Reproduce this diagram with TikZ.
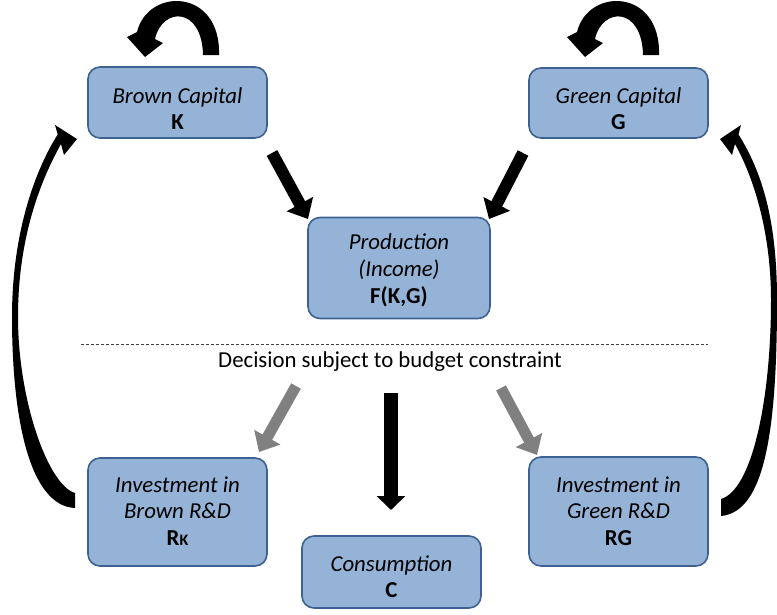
\documentclass[tikz,border=0pt]{standalone}
\usepackage{fontspec}
\setmainfont{Carlito}
\usetikzlibrary{arrows.meta}
\definecolor{boxfill}{HTML}{95B3D7}
\definecolor{boxline}{HTML}{3D6292}
\definecolor{arrowgray}{HTML}{808080}
\tikzset{
  box/.style={draw=boxline, line width=1.6pt, fill=boxfill, rounded corners=12pt,
    align=center, inner sep=0pt, font=\fontsize{22.8}{26.8}\selectfont},
  blockarrow/.style={line width=12pt, -{Triangle[width=29pt,length=17pt]}},
  downarrow/.style={line width=14pt, -{Triangle[width=28pt,length=14pt]}},
  grayarrow/.style={blockarrow, draw=arrowgray, line width=11pt},
  bendarrow/.style={fill=black, draw=none},
  divider/.style={draw=black!75, line width=0.6pt, dash pattern=on 3pt off 2pt},
  caption/.style={font=\fontsize{22.8}{26}\selectfont, inner sep=0pt}
}
% raise the top of a text block to move its lines down inside a box
\newcommand{\lift}[1]{\rule{0pt}{#1pt}}
\begin{document}
\begin{tikzpicture}[x=1pt,y=-1pt]
\useasboundingbox (0,0) rectangle (777,614);

% capital stocks, production and decision boxes
\node[box, minimum width=179pt, minimum height=71pt] (bk) at (177.5,102.5)
  {\lift{28}\textit{Brown Capital}\\\textbf{K}};
\node[box, minimum width=179pt, minimum height=70pt] (gc) at (618.5,103)
  {\lift{27}\textit{Green Capital}\\\textbf{G}};
\node[box, minimum width=182pt, minimum height=101pt] (prod) at (399,268)
  {\lift{21}\textit{Production}\\\textit{(Income)}\\\textbf{F(K,G)}};
\node[box, minimum width=179pt, minimum height=108pt] (ib) at (177.5,512)
  {\textit{Investment in}\\\textit{Brown R\&D}\\\textbf{R{\fontsize{16}{16}\selectfont K}}\rule[-2pt]{0pt}{2pt}};
\node[box, minimum width=179pt, minimum height=109pt] (ig) at (618.5,511.5)
  {\textit{Investment in}\\\textit{Green R\&D}\\\textbf{RG}\rule[-1pt]{0pt}{1pt}};
\node[box, minimum width=179pt, minimum height=72pt] (cons) at (391.5,572)
  {\lift{25}\textit{Consumption}\\\textbf{C}};

% budget constraint divider
\coordinate (dl) at (81,344);
\coordinate (dr) at (708,344);
\draw[divider] (dl) -- (dr);
\node[caption] (dec) at (390,362) {Decision subject to budget constraint};

% straight block arrows
\coordinate (bkout) at (272,153);
\coordinate (prodinl) at (308,219);
\coordinate (gcout) at (523,153);
\coordinate (prodinr) at (489,219);
\draw[blockarrow] (bkout) -- (prodinl);
\draw[blockarrow] (gcout) -- (prodinr);

\coordinate (decl) at (296,386);
\coordinate (ibin) at (259,452);
\coordinate (decr) at (501,388);
\coordinate (igin) at (537,455);
\coordinate (decc) at (391,393);
\coordinate (consin) at (391,510);
\draw[grayarrow] (decl) -- (ibin);
\draw[grayarrow] (decr) -- (igin);
\draw[downarrow] (decc) -- (consin);

% self loops on the capital stocks
\fill[bendarrow] (219,55) .. controls (221,-12) and (148,-13) .. (137,32)
  -- (127,37) -- (145,57) -- (163,43) -- (155,39)
  .. controls (162,7) and (202,6) .. (203,55) -- cycle;
\fill[bendarrow] (659,55) .. controls (661,-12) and (588,-13) .. (577,32)
  -- (567,37) -- (585,57) -- (603,43) -- (595,39)
  .. controls (602,7) and (642,6) .. (643,55) -- cycle;

% R&D feeding back into capital
\fill[bendarrow] (75,508) .. controls (30,506) and (12,420) .. (12,317)
  .. controls (12,235) and (34,172) .. (57.7,134.4)
  -- (55,125) -- (77,139) -- (64,155) -- (61,144)
  .. controls (42,178) and (18,235) .. (18,317)
  .. controls (18,400) and (48,485) .. (75,493) -- cycle;
\fill[bendarrow] (721,516) .. controls (765,512) and (777,430) .. (777,300)
  .. controls (777,220) and (762,172) .. (738.5,134.4)
  -- (741,125) -- (720,139) -- (732,155) -- (735,144)
  .. controls (755,180) and (771,235) .. (771,300)
  .. controls (771,400) and (752,490) .. (721,499) -- cycle;
\end{tikzpicture}
\end{document}
